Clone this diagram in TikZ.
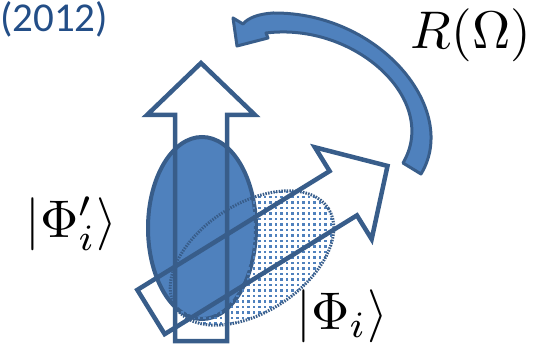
\RequirePackage{fix-cm}
\documentclass[tikz,border=0pt]{standalone}
\usepackage{amsmath,amssymb}
\usepackage{fontspec}
\newfontfamily\yearfont{Carlito}
\usepackage{xcolor}
\usepackage{tikz}

\definecolor{fillblue}{HTML}{4F81BD}
\definecolor{lineblue}{HTML}{385D8A}
\definecolor{yearblue}{RGB}{35,78,135}

\begin{document}
\begin{tikzpicture}[x=1pt, y=-1pt]

% Defined styles
\tikzstyle{hollowarrow} = [draw=lineblue, line width=4.5pt, line join=miter]
\tikzstyle{solidbody} = [draw=lineblue, line width=4pt, fill=fillblue]
\tikzstyle{dotbody} = [draw=lineblue, line width=3pt, dash pattern=on 1.5pt off 1.2pt]
\tikzstyle{dotcell} = [fill=fillblue]
\tikzstyle{turnarrow} = [draw=lineblue, line width=3pt, line join=round, fill=fillblue]
\tikzstyle{ketlabel} = [inner sep=0pt, scale=5.3]

\useasboundingbox (0,0) rectangle (546,347);

% --- Rotated state (solid) ---
\fill[solidbody] (202,228) ellipse [x radius=54, y radius=91];

% --- Original state (dotted) ---
\begin{scope}
  \clip[rotate around={33:(252,258)}] (252,258) ellipse [x radius=91, y radius=54];
  \foreach \gx in {166,171.5,...,340} {
    \foreach \gy in {186,191.5,...,330} {
      \fill[dotcell] (\gx-1.3,\gy-1.3) rectangle +(2.6,2.6);
    }
  }
\end{scope}
\draw[dotbody, rotate around={33:(252,258)}] (252,258) ellipse [x radius=91, y radius=54];

% --- Hollow arrows (tail centre at origin, pointing up) ---
\draw[hollowarrow, shift={(201,341)}]
  (-26,0) -- (26,0) -- (26,-226) -- (54,-226) -- (0,-278) -- (-54,-226) -- (-26,-226) -- cycle;
\draw[hollowarrow, shift={(151,312)}, rotate=-58.3]
  (-26,0) -- (26,0) -- (26,-226) -- (54,-226) -- (0,-278) -- (-54,-226) -- (-26,-226) -- cycle;

% --- Rotation arrow ---
\draw[turnarrow] (403,163) -- (421,174)
  .. controls (460,110) and (380,12) .. (273,13)
  .. controls (258,14) and (248,18) .. (243,24)
  -- (233,18) -- (237,46) -- (268,38) -- (266,33)
  .. controls (355,22) and (440,100) .. (403,163) -- cycle;

% --- Labels ---
\node[anchor=base west, inner sep=0pt, text=yearblue, font=\yearfont\fontsize{41}{48}\selectfont] (year) at (0,32) {(2012)};
\node[ketlabel] (rot) at (471,35) {$R(\Omega)$};
\node[ketlabel] (phiprime) at (71,224) {$|\Phi'_i\rangle$};
\node[ketlabel] (phi) at (342,316) {$|\Phi_i\rangle$};

\end{tikzpicture}
\end{document}
